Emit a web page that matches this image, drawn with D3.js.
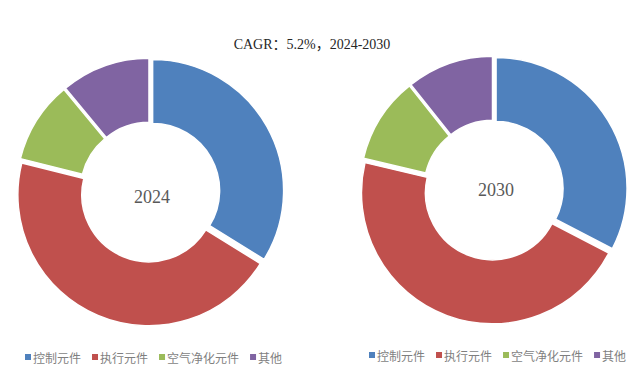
<!DOCTYPE html>
<html>
<head>
<meta charset="utf-8">
<script src="https://cdn.jsdelivr.net/npm/d3@7"></script>
<style>
  body { margin: 0; background: #fff; }
  svg text { font-family: "Liberation Serif", "Noto Sans CJK SC", serif; }
  .legend text { font-family: "Noto Sans CJK SC", sans-serif; fill: #7f7f7f; font-size: 12px; }
</style>
</head>
<body>
<div id="chart"></div>
<script>
var categories = ['控制元件', '执行元件', '空气净化元件', '其他'];
var years = ['2024', '2030'];
var values2024 = [33.8, 45.1, 10.1, 11.0];
var values2030 = [32.6, 46.1, 10.6, 10.7];
var colors = ['#4F81BD', '#C0504D', '#9BBB59', '#8064A2'];

var width = 643;
var height = 379;

var svg = d3.select("#chart").append("svg").attr("width", width).attr("height", height);

svg.append("text")
    .attr("x", 312)
    .attr("y", 49)
    .attr("text-anchor", "middle")
    .attr("font-size", 14)
    .attr("fill", "#262626")
    .text("CAGR：5.2%，2024-2030");

var pie = d3.pie().sort(null).value(function (d) { return d; });
var arc = d3.arc().innerRadius(67).outerRadius(131);
var explode = 3;

var donuts = [
    {year: years[0], values: values2024, cx: 150, cy: 192, lx: 152, ly: 197, legendX: 25, legendY: 357},
    {year: years[1], values: values2030, cx: 493.5, cy: 190, lx: 496, ly: 190, legendX: 369, legendY: 355}
];

donuts.forEach(function (dn) {
    var g = svg.append("g").attr("transform", "translate(" + dn.cx + "," + dn.cy + ")");
    g.selectAll("path")
        .data(pie(dn.values))
        .enter().append("path")
        .attr("d", arc)
        .attr("fill", function (d, i) { return colors[i]; })
        .attr("stroke", "#fff")
        .attr("stroke-width", 1.5)
        .attr("transform", function (d) {
            var a = (d.startAngle + d.endAngle) / 2;
            return "translate(" + (Math.sin(a) * explode) + "," + (-Math.cos(a) * explode) + ")";
        });

    svg.append("text")
        .attr("x", dn.lx)
        .attr("y", dn.ly)
        .attr("text-anchor", "middle")
        .attr("dominant-baseline", "central")
        .attr("font-size", 18)
        .attr("fill", "#595959")
        .text(dn.year);

    // legend
    var lg = svg.append("g").attr("class", "legend")
        .attr("transform", "translate(" + dn.legendX + "," + dn.legendY + ")");
    var x = 0;
    categories.forEach(function (c, i) {
        lg.append("rect")
            .attr("x", x).attr("y", -3)
            .attr("width", 6).attr("height", 6)
            .attr("fill", colors[i]);
        var t = lg.append("text")
            .attr("x", x + 8)
            .attr("y", 0)
            .attr("dominant-baseline", "central")
            .text(c);
        x += 8 + t.node().getComputedTextLength() + 11;
    });
});
</script>
</body>
</html>
